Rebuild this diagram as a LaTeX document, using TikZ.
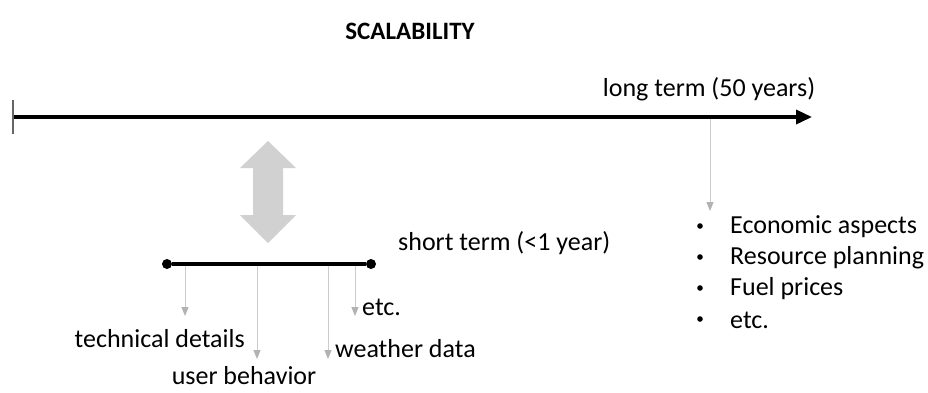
\documentclass[tikz,border=0pt]{standalone}
\usepackage{fontspec}
\setmainfont{Carlito}
\usetikzlibrary{arrows.meta}

\tikzset{
  lbl/.style = {inner sep = 0pt, font = \fontsize{26}{31}\selectfont},
  pointer/.style = {draw = black!20, line width = 1pt, -{Triangle[length = 9pt, width = 7pt, color = black!30]}},
  axis/.style = {line width = 3.5pt},
}

\begin{document}
\begin{tikzpicture}[x = 1pt, y = -1pt]
    \useasboundingbox (0, 0) rectangle (928, 392);

    \node (title) at (410, 31) [inner sep = 0pt, font = \fontsize{25}{30}\selectfont\bfseries] {SCALABILITY};

    % long time axis
    \coordinate (L0) at ( 13, 117);
    \coordinate (L1) at (812, 117);
    \draw [axis, -{Triangle[length = 16pt, width = 14pt]}] (L0) -- (L1);
    \draw [line width = 1.2pt, black!60] (13, 100) -- (13, 134);
    \node (long) at (709, 89) [lbl] {long term (50 years)};

    \coordinate (l) at (710, 119);
    \coordinate (la) at (710, 211);
    \draw [pointer] (l) -- (la);

    \node (b1) at (730, 227) [lbl, anchor = west] {Economic aspects};
    \node (b2) at (730, 258) [lbl, anchor = west] {Resource planning};
    \node (b3) at (730, 289) [lbl, anchor = west] {Fuel prices};
    \node (b4) at (730, 320) [lbl, anchor = west] {etc.};
    \foreach \y in {226, 257, 288, 319}
      \fill (700, \y) circle (2.8pt);

    % zoom between the two scales
    \fill [black!18] (268, 141) -- (296, 168) -- (283, 168) -- (283, 215) -- (296, 215)
                     -- (268, 243) -- (240, 215) -- (253, 215) -- (253, 168) -- (240, 168) -- cycle;

    % short time axis
    \node (S0) at (167, 264) [circle, fill, inner sep = 0pt, minimum size = 10pt] {};
    \node (S1) at (371, 264) [circle, fill, inner sep = 0pt, minimum size = 10pt] {};
    \draw [axis] (S0) -- (S1);
    \node (short) at (398, 243) [lbl, anchor = west] {short term (<1 year)};

    \coordinate (s1) at (185, 266);
    \coordinate (s2) at (257, 266);
    \coordinate (s3) at (328, 266);
    \coordinate (s4) at (355, 266);
    \coordinate (a1) at (185, 316);
    \coordinate (a2) at (257, 359);
    \coordinate (a3) at (328, 359);
    \coordinate (a4) at (355, 316);
    \draw [pointer] (s1) -- (a1);
    \draw [pointer] (s2) -- (a2);
    \draw [pointer] (s3) -- (a3);
    \draw [pointer] (s4) -- (a4);

    \node (tech) at (245, 339) [lbl, anchor = east] {technical details};
    \node (user) at (244, 376) [lbl] {user behavior};
    \node (wthr) at (335, 349) [lbl, anchor = west] {weather data};
    \node (etc)  at (362, 307) [lbl, anchor = west] {etc.};
\end{tikzpicture}
\end{document}
